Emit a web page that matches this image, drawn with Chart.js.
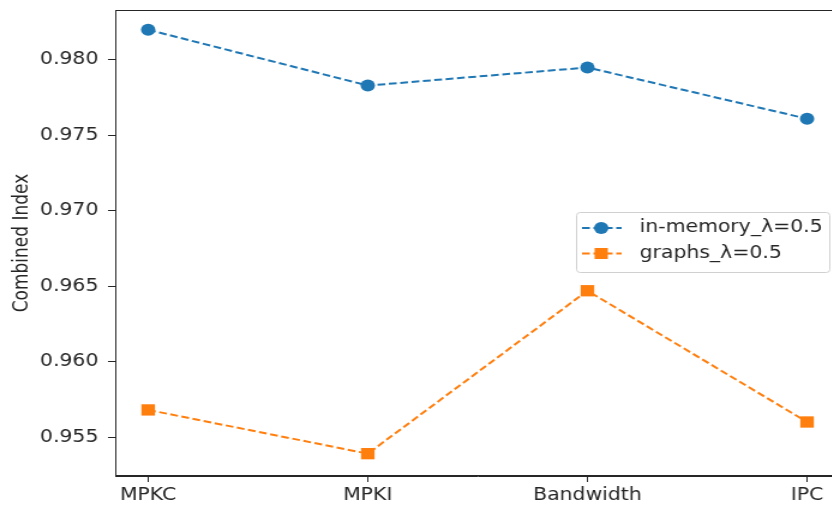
<!DOCTYPE html>
<html lang="en">
<head>
<meta charset="UTF-8">
<title>Combined Index</title>
<script src="https://cdn.jsdelivr.net/npm/chart.js"></script>
<style>
  html, body { margin: 0; padding: 0; background: #fff; overflow: hidden; }
  #wrap { width: 832px; height: 507px; overflow: hidden; position: relative; }
  /* the source image is stretched sideways, so draw narrow and scale in x */
  #chart { position: absolute; left: 0; top: 0; transform: scaleX(1.2); transform-origin: 0 0; }
</style>
</head>
<body>
<div id="wrap"><canvas id="chart" width="708" height="507"></canvas></div>
<script>
const categories = ["MPKC", "MPKI", "Bandwidth", "IPC"];
const inMemory = [0.9820, 0.9783, 0.9795, 0.9761];
const graphs = [0.9568, 0.9539, 0.9647, 0.9560];
const yTicks = [0.955, 0.960, 0.965, 0.970, 0.975, 0.980];
const seriesNames = ["in-memory_λ=0.5", "graphs_λ=0.5"];

const FONT = "'DejaVu Sans', sans-serif";
const INK = "#262626";

// box around the plot + matplotlib-like legend
const framePlugin = {
  id: "frame",
  afterDraw(chart) {
    const { ctx, chartArea: a } = chart;
    ctx.save();
    ctx.strokeStyle = INK;
    ctx.lineWidth = 1;
    ctx.strokeRect(a.left + 0.5, a.top + 0.5, a.right - a.left - 1, a.bottom - a.top - 1);

    // legend
    const x0 = 480, y0 = 212, w = 211, h = 60;
    ctx.fillStyle = "rgba(255,255,255,0.8)";
    ctx.strokeStyle = "#d0d0d0";
    ctx.beginPath();
    ctx.roundRect(x0 + 0.5, y0 + 0.5, w, h, 3);
    ctx.fill();
    ctx.stroke();
    chart.data.datasets.forEach((ds, i) => {
      const cy = y0 + 16 + i * 25.5;
      ctx.strokeStyle = ds.borderColor;
      ctx.lineWidth = 2;
      ctx.setLineDash([6.5, 3]);
      ctx.beginPath();
      ctx.moveTo(485, cy);
      ctx.lineTo(518, cy);
      ctx.stroke();
      ctx.setLineDash([]);
      ctx.fillStyle = ds.backgroundColor;
      if (ds.pointStyle === "rect") {
        ctx.fillRect(501 - 5.5, cy - 5.5, 11, 11);
      } else {
        ctx.beginPath();
        ctx.arc(501, cy, 6, 0, Math.PI * 2);
        ctx.fill();
      }
      ctx.fillStyle = INK;
      ctx.font = "17px " + FONT;
      ctx.textBaseline = "middle";
      ctx.fillText(ds.label, 533, cy);
    });
    ctx.restore();
  }
};

const toXY = vals => vals.map((v, i) => ({ x: i, y: v }));

new Chart(document.getElementById("chart"), {
  type: "line",
  data: {
    datasets: [
      {
        label: seriesNames[0],
        data: toXY(inMemory),
        borderColor: "#1f77b4",
        backgroundColor: "#1f77b4",
        borderWidth: 2,
        borderDash: [6.5, 3],
        pointStyle: "circle",
        pointRadius: 6,
        pointHoverRadius: 6,
        pointBorderWidth: 0,
        fill: false,
        tension: 0
      },
      {
        label: seriesNames[1],
        data: toXY(graphs),
        borderColor: "#ff7f0e",
        backgroundColor: "#ff7f0e",
        borderWidth: 2,
        borderDash: [6.5, 3],
        pointStyle: "rect",
        pointRadius: 8,
        pointHoverRadius: 8,
        pointBorderWidth: 0,
        fill: false,
        tension: 0
      }
    ]
  },
  options: {
    responsive: false,
    animation: false,
    devicePixelRatio: 1,
    events: [],
    layout: { padding: { top: 10, right: 1, left: 0, bottom: 0 } },
    plugins: {
      legend: { display: false },
      tooltip: { enabled: false }
    },
    scales: {
      x: {
        type: "linear",
        min: -0.15,
        max: 3.15,
        afterBuildTicks: axis => { axis.ticks = categories.map((c, i) => ({ value: i })); },
        afterFit: axis => { axis.height = 31; axis.paddingLeft = 0; axis.paddingRight = 0; },
        grid: { drawOnChartArea: false, drawTicks: true, tickLength: 6, tickColor: INK, color: INK },
        border: { display: true, color: INK, width: 1 },
        ticks: {
          color: INK,
          font: { family: FONT, size: 17 },
          padding: 3,
          maxRotation: 0,
          callback: v => categories[v]
        }
      },
      y: {
        min: 0.95242,
        max: 0.98331,
        afterBuildTicks: axis => { axis.ticks = yTicks.map(v => ({ value: v })); },
        afterFit: axis => { axis.width = 96; axis.paddingTop = 0; axis.paddingBottom = 0; },
        grid: { drawOnChartArea: false, drawTicks: true, tickLength: 6, tickColor: INK, color: INK },
        border: { display: true, color: INK, width: 1 },
        title: {
          display: true,
          text: "Combined Index",
          color: INK,
          font: { family: FONT, size: 17 },
          padding: { top: 8, bottom: 0 }
        },
        ticks: {
          color: INK,
          font: { family: FONT, size: 17 },
          padding: 8,
          callback: v => v.toFixed(3)
        }
      }
    }
  },
  plugins: [framePlugin]
});
</script>
</body>
</html>
